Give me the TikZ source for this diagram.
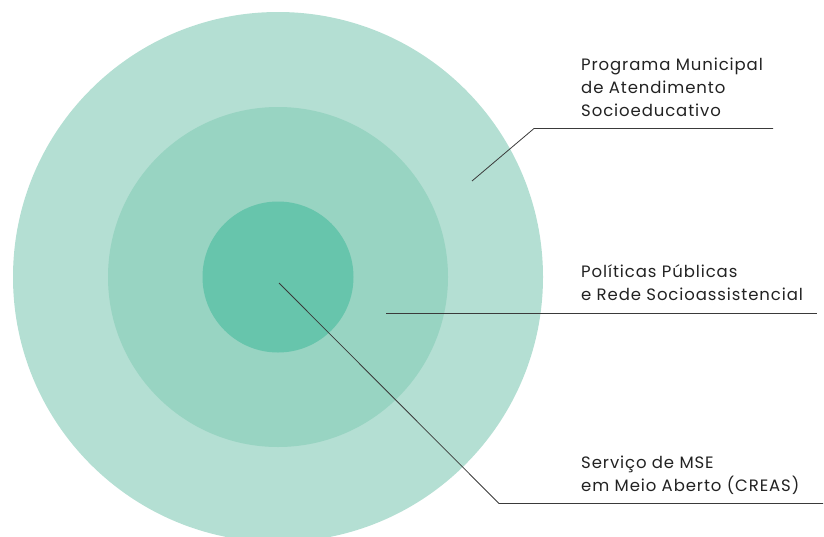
\documentclass[tikz,border=0pt]{standalone}
\usepackage{fontspec}
\setmainfont{Poppins}[LetterSpace=5.5]

\definecolor{OC}{HTML}{B4DFD3}
\definecolor{MC}{HTML}{98D4C2}
\definecolor{IC}{HTML}{67C5AC}
\definecolor{LN}{HTML}{3A3A3A}
\definecolor{TX}{HTML}{222222}

\begin{document}
\begin{tikzpicture}[x=1pt, y=-1pt,
    every node/.style={anchor=base west, align=left, inner sep=0pt, text=TX,
      font=\fontsize{16.5}{22.7}\selectfont},
    lead/.style={draw=LN, line width=0.8pt}]
    \useasboundingbox (0,0) rectangle (824,536);
    \clip (0,0) rectangle (824,536);
    % three rings
    \fill[OC] (278,277) circle (265pt);
    \fill[MC] (278,277) circle (170pt);
    \fill[IC] (278,277) circle (75.5pt);
    % labels (anchored at the baseline of their last line)
    \node (prog) at (581,116) {Programa Municipal\\de Atendimento\\Socioeducativo};
    \node (pol) at (581,300) {Políticas Públicas\\e Rede Socioassistencial};
    \node (serv) at (581,491) {Serviço de MSE\\em Meio Aberto (CREAS)};
    % leader lines
    \coordinate (p0) at (472,181);
    \coordinate (p1) at (534,128.5);
    \coordinate (p2) at (773,128.5);
    \coordinate (r0) at (386,313);
    \coordinate (r1) at (817,313);
    \coordinate (s0) at (279,283);
    \coordinate (s1) at (499,503.5);
    \coordinate (s2) at (823,503.5);
    \draw[lead] (p0) -- (p1) -- (p2);
    \draw[lead] (r0) -- (r1);
    \draw[lead] (s0) -- (s1) -- (s2);
\end{tikzpicture}
\end{document}
